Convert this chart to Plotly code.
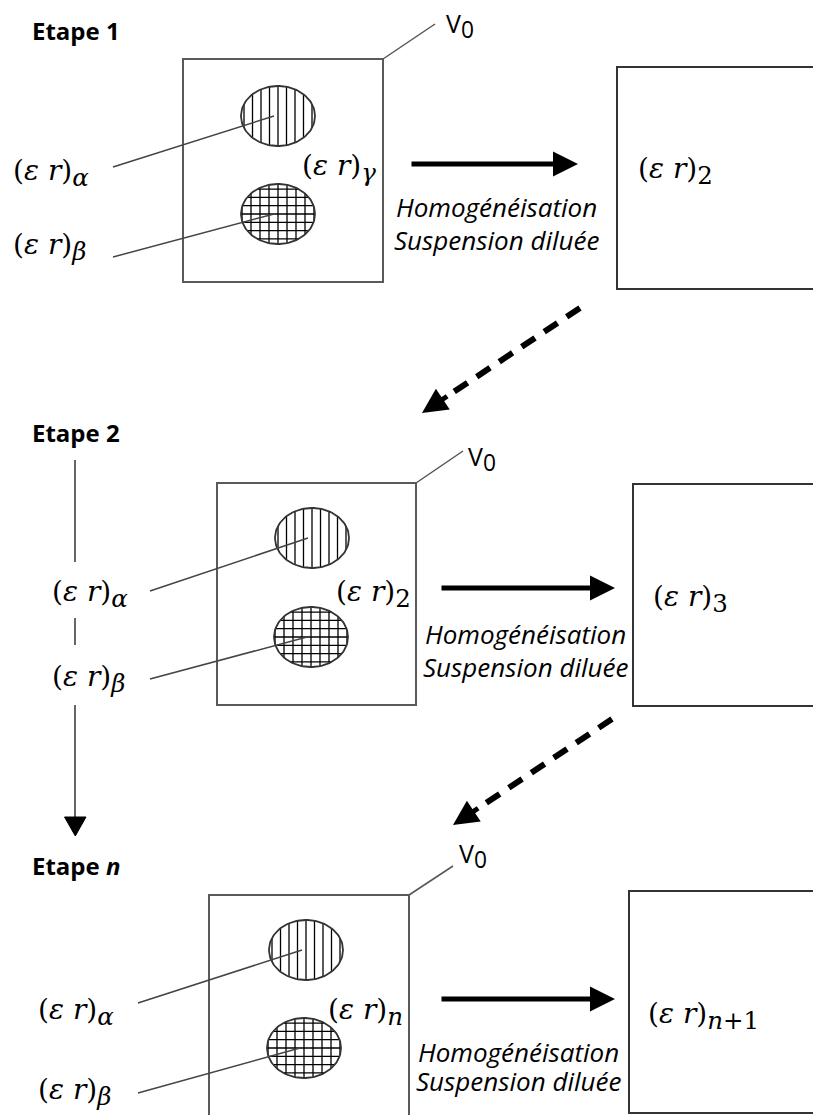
import numpy as np
import plotly.graph_objects as go

# labels of the diagram
step_titles = ["Etape 1", "Etape 2", "Etape <i>n</i>"]
inner_media = ["γ", "2", "<i>n</i>"]
outer_media = ["2", "3", "<i>n</i>+1"]
phases = ["α", "β"]
process_lines = ["Homogénéisation", "Suspension diluée"]
volume_label = "V<sub><span style='font-size:130%'>0</span></sub>"

# geometry of each step (pixels, y downwards)
geo = [
    dict(title=(30, 30), box=(183, 59, 383, 282), v0=(383, 59, 435, 24), v0t=(444, 25),
         ea=(278, 116), eb=(278, 214), la=(11, 173), lb=(11, 247), lda=(113, 167), ldb=(113, 257),
         inner=(378, 168), arrow=(410, 578, 164), txt=(496, 207, 240),
         rbox=(617, 67, 289), outer=(636, 171)),
    dict(title=(30, 432), box=(217, 483, 416, 705), v0=(416, 483, 463, 451), v0t=(466, 458),
         ea=(312, 538), eb=(311, 637), la=(50, 594), lb=(50, 679), lda=(150, 591), ldb=(150, 679),
         inner=(413, 594), arrow=(440, 615, 588), txt=(525, 634, 667),
         rbox=(633, 484, 706), outer=(651, 599)),
    dict(title=(30, 865), box=(209, 895, 409, 1130), v0=(409, 895, 453, 866), v0t=(457, 855),
         ea=(306, 950), eb=(304, 1048), la=(36, 1012), lb=(36, 1092), lda=(138, 1003), ldb=(138, 1093),
         inner=(405, 1012), arrow=(440, 615, 999), txt=(518, 1052, 1081),
         rbox=(629, 891, 1113), outer=(646, 1016)),
]
dashed = [((580, 308), (422, 413)), ((612, 719), (453, 825))]

RX, RY = 37, 30
# hatch spacing (vertical, horizontal) for phase alpha and beta
HATCH = [(8.5, None), (9.0, 8.3)]
SERIF = "DejaVu Serif"
SANS = "Open Sans"
PAGE = 8  # body margin of the html page

def eps(sub):
    s = f"<i>{sub}</i>" if sub in ("α", "β", "γ") else sub
    return f"(<i>ε</i> <i>r</i>)<sub><span style='font-size:125%'>{s}</span></sub>"

def label(x, y, text, size, family, anchor="left"):
    return dict(x=x, y=y, text=text, showarrow=False, xanchor=anchor, yanchor="middle",
                font=dict(family=family, size=size, color="black"))

def hatch(cx, cy, dv, dh):
    xs, ys = [], []
    if dv:
        for k in np.arange(-int(RX // dv), int(RX // dv) + 1):
            dx = k * dv
            h = RY * np.sqrt(max(0.0, 1 - (dx / RX) ** 2))
            xs += [cx + dx, cx + dx, None]
            ys += [cy - h, cy + h, None]
    if dh:
        for k in np.arange(-int(RY // dh), int(RY // dh) + 1):
            dy = k * dh
            w = RX * np.sqrt(max(0.0, 1 - (dy / RY) ** 2))
            xs += [cx - w, cx + w, None]
            ys += [cy + dy, cy + dy, None]
    return xs, ys

fig = go.Figure()
shapes = []
ann = []
t = np.linspace(0, 2 * np.pi, 120)

for i, g in enumerate(geo):
    ann.append(label(*g["title"], f"<b>{step_titles[i]}</b>", 24, SANS))
    # volume box + V0
    x0, y0, x1, y1 = g["box"]
    shapes.append(dict(type="rect", x0=x0, y0=y0, x1=x1, y1=y1, line=dict(color="#5a5a5a", width=2)))
    a, b, c, d = g["v0"]
    shapes.append(dict(type="line", x0=a, y0=b, x1=c, y1=d, line=dict(color="#555", width=1.5)))
    ann.append(label(*g["v0t"], volume_label, 25, SANS))
    # inclusions
    for k, key in enumerate(["ea", "eb"]):
        cx, cy = g[key]
        hx, hy = hatch(cx, cy, *HATCH[k])
        fig.add_trace(go.Scatter(x=hx, y=hy, mode="lines", line=dict(color="black", width=1.3),
                                 hoverinfo="skip", showlegend=False))
        fig.add_trace(go.Scatter(
            x=cx + RX * np.cos(t), y=cy + RY * np.sin(t), mode="lines",
            line=dict(color="#333", width=1.8), hoverinfo="skip", showlegend=False))
        lx, ly = g["lda" if k == 0 else "ldb"]
        shapes.append(dict(type="line", x0=lx, y0=ly, x1=cx - 4, y1=cy,
                           line=dict(color="#444", width=1.5)))
        lab = g["la" if k == 0 else "lb"]
        ann.append(label(*lab, eps(phases[k]), 28, SERIF))
    ann.append(label(*g["inner"], eps(inner_media[i]), 28, SERIF, anchor="right"))
    # homogenisation arrow
    ax0, ax1, ay = g["arrow"]
    ann.append(dict(x=ax1, y=ay, ax=ax0, ay=ay, xref="x", yref="y", axref="x", ayref="y", text="",
                    showarrow=True, arrowhead=2, arrowsize=1, arrowwidth=5, arrowcolor="black"))
    for j, line in enumerate(process_lines):
        ann.append(label(g["txt"][0], g["txt"][1 + j], f"<i>{line}</i>", 26, SANS, anchor="center"))
    # homogenised medium
    rx0, ry0, ry1 = g["rbox"]
    shapes.append(dict(type="rect", x0=rx0, y0=ry0, x1=860, y1=ry1, line=dict(color="#333", width=2)))
    ann.append(label(*g["outer"], eps(outer_media[i]), 28, SERIF))

# dashed arrows between steps
for (sx, sy), (tx, ty) in dashed:
    ux, uy = sx - tx, sy - ty
    n = np.hypot(ux, uy)
    ux, uy = ux / n, uy / n
    shapes.append(dict(type="line", x0=sx, y0=sy, x1=tx + 30 * ux, y1=ty + 30 * uy,
                       line=dict(color="black", width=6, dash="16px,11px")))
    ann.append(dict(x=tx, y=ty, ax=tx + 32 * ux, ay=ty + 32 * uy, xref="x", yref="y",
                    axref="x", ayref="y", text="", showarrow=True, arrowhead=2,
                    arrowsize=1, arrowwidth=5, arrowcolor="black"))

# vertical progression line with arrow
for y0, y1 in [(460, 562), (618, 645), (705, 818)]:
    shapes.append(dict(type="line", x0=75, y0=y0, x1=75, y1=y1, line=dict(color="#333", width=1.5)))
shapes.append(dict(type="path", path="M 64.5 817 L 86 817 L 75.3 836 Z",
                   fillcolor="black", line=dict(color="black", width=1)))

fig.update_layout(
    width=821, height=1115, margin=dict(l=0, r=0, t=0, b=0),
    paper_bgcolor="white", plot_bgcolor="white",
    xaxis=dict(range=[PAGE, 821 + PAGE], visible=False, fixedrange=True),
    yaxis=dict(range=[1115 + PAGE, PAGE], visible=False, fixedrange=True),
    shapes=shapes, annotations=ann, showlegend=False,
)
fig.write_html("out.html")
